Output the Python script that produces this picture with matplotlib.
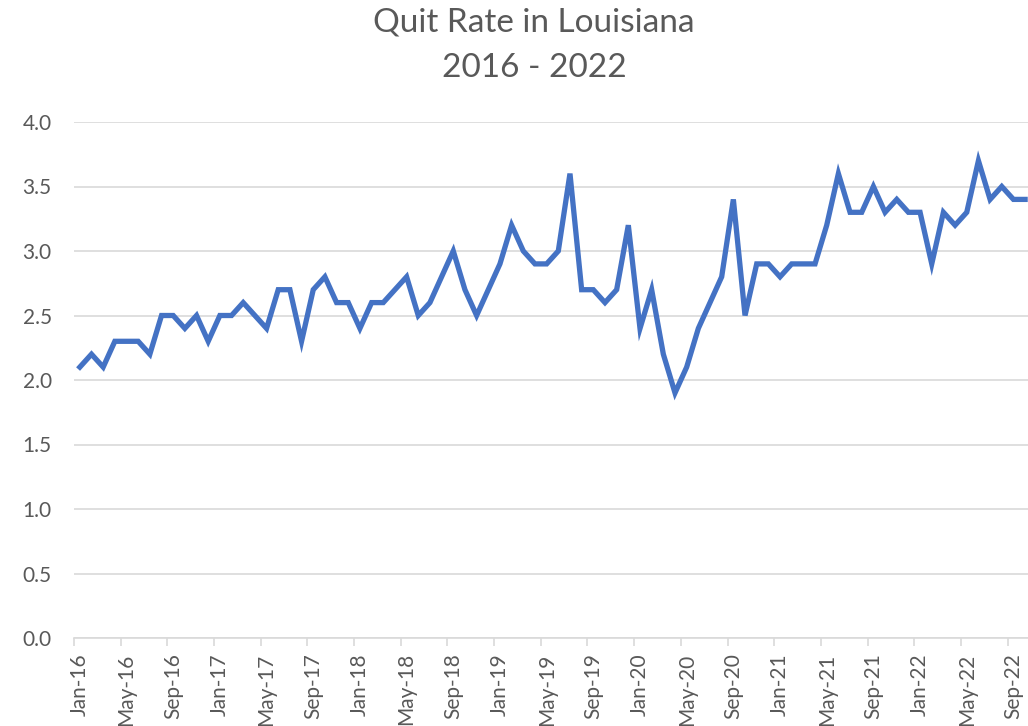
import matplotlib
matplotlib.use('Agg')
import matplotlib.pyplot as plt
import numpy as np

# monthly quit rate, Jan-16 .. Oct-22
months = ['Jan', 'Feb', 'Mar', 'Apr', 'May', 'Jun',
          'Jul', 'Aug', 'Sep', 'Oct', 'Nov', 'Dec']
years = ['16', '17', '18', '19', '20', '21', '22']

rate_2016 = [2.1, 2.2, 2.1, 2.3, 2.3, 2.3, 2.2, 2.5, 2.5, 2.4, 2.5, 2.3]
rate_2017 = [2.5, 2.5, 2.6, 2.5, 2.4, 2.7, 2.7, 2.3, 2.7, 2.8, 2.6, 2.6]
rate_2018 = [2.4, 2.6, 2.6, 2.7, 2.8, 2.5, 2.6, 2.8, 3.0, 2.7, 2.5, 2.7]
rate_2019 = [2.9, 3.2, 3.0, 2.9, 2.9, 3.0, 3.6, 2.7, 2.7, 2.6, 2.7, 3.2]
rate_2020 = [2.4, 2.7, 2.2, 1.9, 2.1, 2.4, 2.6, 2.8, 3.4, 2.5, 2.9, 2.9]
rate_2021 = [2.8, 2.9, 2.9, 2.9, 3.2, 3.6, 3.3, 3.3, 3.5, 3.3, 3.4, 3.3]
rate_2022 = [3.3, 2.9, 3.3, 3.2, 3.3, 3.7, 3.4, 3.5, 3.4, 3.4]

rate = rate_2016 + rate_2017 + rate_2018 + rate_2019 + rate_2020 + rate_2021 + rate_2022
labels = [m + '-' + y for y in years for m in months][:len(rate)]

plt.rcParams['font.family'] = ['Lato', 'DejaVu Sans']
grey = '#595959'

fig = plt.figure(figsize=[10.28, 7.26], dpi=100)
W, H = 1028, 726
left, right = 74, 74 + 11.67 * len(rate)
top, bottom = 122, 638
ax = fig.add_axes([left / W, 1 - bottom / H, (right - left) / W, (bottom - top) / H])

x = np.arange(len(rate))
ax.plot(x, rate, color='#4472C4', lw=3.8, solid_joinstyle='miter', zorder=3)

ax.set_xlim(-0.5, len(rate) - 0.5)
ax.set_ylim(0, 4.0)
ax.set_yticks(np.arange(0, 4.01, 0.5))
ax.set_yticklabels(['%.1f' % v for v in np.arange(0, 4.01, 0.5)])
ax.grid(axis='y', color='#D9D9D9', lw=1.2, zorder=0)
ax.set_axisbelow(True)

# labels every 4 months, tick marks on category boundaries
ax.set_xticks(x[::4])
ax.set_xticklabels(labels[::4], rotation=90)
ax.set_xticks(x[::4] - 0.5, minor=True)
ax.tick_params(axis='x', which='major', length=0, pad=11, labelsize=15, labelcolor=grey)
ax.tick_params(axis='x', which='minor', length=6, width=1.2, color='#D9D9D9')
ax.tick_params(axis='y', length=0, pad=16, labelsize=15, labelcolor=grey)

for s in ['top', 'right', 'left']:
    ax.spines[s].set_visible(False)
ax.spines['bottom'].set_color('#D9D9D9')
ax.spines['bottom'].set_linewidth(1.2)

fig.text(534 / W, 1 - 32 / H, 'Quit Rate in Louisiana', ha='center', va='baseline',
         fontsize=24, color=grey)
fig.text(534 / W, 1 - 77 / H, '2016 - 2022', ha='center', va='baseline',
         fontsize=24, color=grey)

fig.savefig('out.png', dpi=100)
